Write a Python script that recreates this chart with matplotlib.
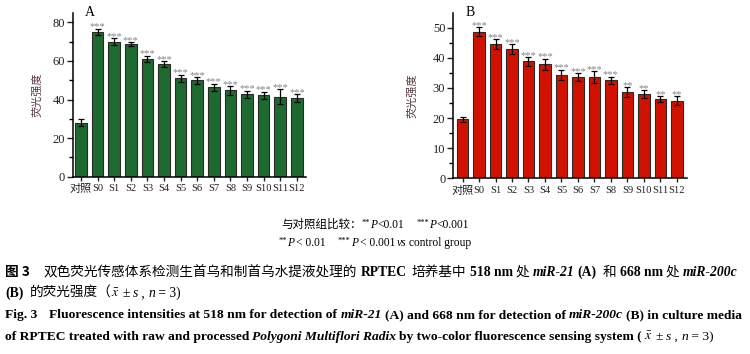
import matplotlib
matplotlib.use('Agg')
import matplotlib.pyplot as plt
import numpy as np

plt.rcParams['font.family'] = ['Liberation Serif', 'Noto Sans CJK SC']
plt.rcParams['mathtext.fontset'] = 'stix'

groups = ['对照', 'S0', 'S1', 'S2', 'S3', 'S4', 'S5', 'S6', 'S7', 'S8', 'S9', 'S10', 'S11', 'S12']

# panel A: miR-21 at 518 nm
mir21_mean = [28.0, 75.2, 70.0, 68.9, 61.2, 58.2, 51.0, 49.9, 46.3, 44.8, 42.7, 42.2, 41.5, 40.8]
mir21_sd = [1.8, 1.5, 1.7, 0.9, 1.6, 1.6, 1.8, 1.6, 2.0, 2.2, 1.9, 1.9, 3.8, 2.1]
mir21_sig = ['', '***', '***', '***', '***', '***', '***', '***', '***', '***', '***', '***', '***', '***']

# panel B: miR-200c at 668 nm
mir200c_mean = [19.6, 48.6, 44.7, 42.9, 38.8, 37.8, 34.4, 33.6, 33.6, 32.6, 28.6, 28.0, 26.4, 25.8]
mir200c_sd = [0.8, 1.5, 1.6, 1.6, 1.4, 1.9, 1.7, 1.4, 1.9, 1.2, 1.7, 1.3, 0.9, 1.4]
mir200c_sig = ['', '***', '***', '***', '***', '***', '***', '***', '***', '***', '**', '**', '**', '**']

W, H = 750, 354
fig = plt.figure(figsize=(W / 100, H / 100), dpi=100)


def px_axes(l, r, t, b):
    return fig.add_axes([l / W, 1 - b / H, (r - l) / W, (b - t) / H])


def panel(ax, mean, sd, sig, color, ylim, major, minor, letter, xlim):
    x = np.arange(len(groups))
    ax.bar(x, mean, width=0.7, color=color, edgecolor='#2a2a2a', linewidth=0.8, zorder=2)
    ax.errorbar(x, mean, yerr=sd, fmt='none', ecolor='black', elinewidth=0.9,
                capsize=2.2, capthick=0.9, zorder=3)
    for i in range(len(groups)):
        if sig[i]:
            ax.annotate(sig[i], (x[i], mean[i] + sd[i]), xytext=(0, -2),
                        textcoords='offset points', ha='center', va='bottom',
                        fontsize=7.6, color='#858585')
    ax.set_xlim(xlim)
    ax.set_ylim(ylim)
    ax.set_yticks(major)
    ax.set_yticks(minor, minor=True)
    ax.set_xticks(x)
    ax.set_xticklabels(groups, fontsize=7.6)
    ax.get_xticklabels()[0].set_fontsize(8)
    ax.tick_params(axis='y', labelsize=9, length=4.5, width=1.0, pad=1, colors='#222222')
    ax.tick_params(axis='y', which='minor', length=3, width=1.0)
    ax.tick_params(axis='x', length=3, width=1.0, pad=2.5, colors='#222222')
    for s in ['top', 'right']:
        ax.spines[s].set_visible(False)
    for s in ['left', 'bottom']:
        ax.spines[s].set_linewidth(1.1)
    ax.set_ylabel('荧光强度', fontsize=8, color='#5a3a40', family='Noto Sans CJK SC')
    ax.text(0.075, 1.0, letter, transform=ax.transAxes, fontsize=10, ha='center', va='center')


axA = px_axes(72.7, 306, 12.7, 176.7)
panel(axA, mir21_mean, mir21_sd, mir21_sig, '#1e6a30', (0, 85),
      np.arange(0, 81, 20), np.arange(10, 81, 20), 'A', (-0.5, 13.55))
axA.yaxis.set_label_coords(-30 / 233.3, 0.5)

axB = px_axes(453, 687.3, 12.7, 178.3)
panel(axB, mir200c_mean, mir200c_sd, mir200c_sig, '#d21200', (0, 55),
      np.arange(0, 51, 10), np.arange(5, 51, 10), 'B', (-0.58, 13.64))
axB.yaxis.set_label_coords(-36 / 234.3, 0.5)

# caption text drawn segment by segment
renderer = fig.canvas.get_renderer()
CJK = dict(family='Noto Sans CJK SC')
LAT = dict(family='Liberation Serif')
B = dict(family='Liberation Serif', weight='bold')
BI = dict(family='Liberation Serif', weight='bold', style='italic')
I = dict(family='Liberation Serif', style='italic')


def draw_line(x, y, segs, size, center=False):
    if center:
        total = 0
        for seg in segs:
            if isinstance(seg, (int, float)):
                total += seg
            else:
                t = fig.text(0, 0, seg[0], fontsize=seg[2] if len(seg) > 2 else size, **seg[1])
                total += t.get_window_extent(renderer).width
                t.remove()
        x = x - total / 2
    for seg in segs:
        if isinstance(seg, (int, float)):
            x += seg
            continue
        fs = seg[2] if len(seg) > 2 else size
        dy = seg[3] if len(seg) > 3 else 0
        t = fig.text(x / W, 1 - (y - dy) / H, seg[0], fontsize=fs, ha='left', va='baseline', **seg[1])
        x += t.get_window_extent(renderer).width


fn = 8.3
draw_line(375, 228, [('与对照组比较：', CJK), ('**', LAT, 6, 3), ('P', I), ('<0.01', LAT), 12,
                     ('***', LAT, 6, 3), ('P', I), ('<0.001', LAT)], fn, center=True)
draw_line(375, 246, [('**', LAT, 6, 3), ('P', I), 2, ('< 0.01', LAT), 12,
                     ('***', LAT, 6, 3), ('P', I), 2, ('< 0.001', LAT), 2, ('vs', I), 2,
                     ('control group', LAT)], fn, center=True)

cs = 9.7
zh = 9.85
draw_line(5, 276, [('图 3', dict(CJK, weight='bold')), 14,
                   ('双色荧光传感体系检测生首乌和制首乌水提液处理的', CJK), 4, ('RPTEC', B), 4,
                   ('培养基中', CJK), 4, ('518 nm', B), 3, ('处', CJK), 3, ('miR-21', BI), 3,
                   ('(A)', B), 6, ('和', CJK), 4, ('668 nm', B), 3, ('处', CJK), 3,
                   ('miR-200c', BI)], zh)
draw_line(5, 297, [('(B)', B), 6, ('的荧光强度（', CJK), (r'$\bar{x}$', LAT), 3, ('±', LAT), 3,
                   ('s', I), (' , ', LAT), ('n', I), (' = 3)', LAT)], zh)
draw_line(5, 318, [('Fig. 3', B), 12,
                   ('Fluorescence intensities at 518 nm for detection of', B), 3, ('miR-21', BI), 3,
                   ('(A) and 668 nm for detection of', B), 3, ('miR-200c', BI), 3,
                   ('(B) in culture media', B)], cs)
draw_line(5, 340, [('of RPTEC treated with raw and processed', B), 3,
                   ('Polygoni Multiflori Radix', BI), 3,
                   ('by two-color fluorescence sensing system (', B), 2, (r'$\bar{x}$', LAT), 3,
                   ('±', LAT), 3, ('s', I), (' , ', LAT), ('n', I), (' = 3)', LAT)], cs)

fig.savefig('out.png', dpi=100)
